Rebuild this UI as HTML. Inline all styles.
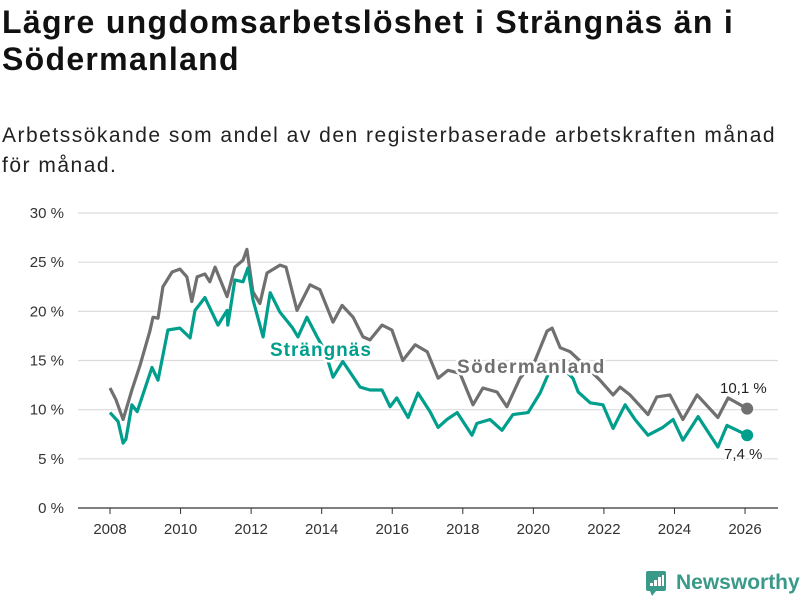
<!DOCTYPE html>
<html><head><meta charset="utf-8"><style>
body{margin:0;background:#fff;width:800px;height:600px;overflow:hidden;font-family:"Liberation Sans",sans-serif;}
h1{position:absolute;left:2px;top:4px;margin:0;font-size:32px;letter-spacing:1.3px;line-height:37px;font-weight:bold;color:#111;width:798px;white-space:nowrap}
.sub{position:absolute;left:2px;top:121px;font-size:21px;letter-spacing:1.5px;line-height:30px;color:#222;white-space:nowrap}
svg{position:absolute;left:0;top:0}
</style></head><body>
<h1>Lägre ungdomsarbetslöshet i Strängnäs än i<br>Södermanland</h1>
<div class="sub">Arbetssökande som andel av den registerbaserade arbetskraften månad<br>för månad.</div>
<svg id="chart" width="800" height="600"></svg>
<script>
const yTicks=[0,5,10,15,20,25,30];
const xTicks=[2008,2010,2012,2014,2016,2018,2020,2022,2024,2026];
const sodYears=[2008.00,2008.17,2008.37,2008.62,2008.85,2009.13,2009.22,2009.36,2009.50,2009.76,2009.98,2010.18,2010.32,2010.47,2010.69,2010.83,2010.98,2011.32,2011.54,2011.77,2011.88,2012.05,2012.25,2012.45,2012.82,2012.99,2013.30,2013.67,2013.95,2014.32,2014.58,2014.89,2015.17,2015.37,2015.71,2015.99,2016.30,2016.65,2016.99,2017.30,2017.58,2017.92,2018.29,2018.57,2018.97,2019.25,2019.62,2020.05,2020.39,2020.53,2020.76,2021.04,2021.46,2021.89,2022.26,2022.46,2022.74,2023.25,2023.50,2023.87,2024.24,2024.64,2025.23,2025.52,2026.06];
const sodVals=[12.2,11,9,12,14.5,18,19.4,19.3,22.5,24,24.3,23.5,21,23.5,23.8,23,24.5,21.5,24.5,25.2,26.3,22,20.8,23.9,24.7,24.5,20.1,22.7,22.2,18.9,20.6,19.4,17.4,17.1,18.6,18.1,15,16.6,15.9,13.2,14,13.7,10.5,12.2,11.8,10.3,13.2,15,18,18.3,16.3,15.9,14.5,13,11.5,12.3,11.5,9.5,11.3,11.5,9,11.5,9.2,11.2,10.1];
const strYears=[2008.00,2008.23,2008.37,2008.45,2008.62,2008.77,2009.19,2009.36,2009.64,2009.98,2010.27,2010.41,2010.69,2011.06,2011.32,2011.34,2011.54,2011.77,2011.91,2012.05,2012.34,2012.54,2012.82,2013.16,2013.33,2013.58,2013.87,2014.09,2014.32,2014.60,2015.09,2015.37,2015.71,2015.94,2016.13,2016.45,2016.73,2017.07,2017.30,2017.55,2017.84,2018.26,2018.40,2018.77,2019.11,2019.42,2019.85,2020.19,2020.47,2020.76,2021.12,2021.27,2021.61,2021.97,2022.26,2022.60,2022.88,2023.25,2023.67,2023.96,2024.24,2024.67,2025.23,2025.49,2026.06];
const strVals=[9.7,8.8,6.6,7,10.5,9.8,14.3,13,18.1,18.3,17.3,20.1,21.4,18.6,20.1,18.6,23.2,23,24.4,21.2,17.4,21.9,19.9,18.4,17.4,19.4,17.4,16,13.3,14.9,12.3,12,12,10.3,11.2,9.2,11.7,9.8,8.2,9,9.7,7.4,8.6,9,7.9,9.5,9.7,11.7,14,14.5,13.2,11.8,10.7,10.5,8.1,10.5,9,7.4,8.2,9,6.9,9.3,6.2,8.4,7.4];
const NS='http://www.w3.org/2000/svg';
const svg=document.getElementById('chart');
const X=y=>110+(y-2008)*35.28;
const Y=v=>508-v*9.833;
function mk(t,a,p){const e=document.createElementNS(NS,t);for(const k in a)e.setAttribute(k,a[k]);(p||svg).appendChild(e);return e;}
yTicks.forEach(v=>{
 const l=mk('line',{x1:78,x2:778,y1:Y(v),y2:Y(v),stroke:v===0?'#333':'#dcdcdc','stroke-width':1.2});
 
 
 const t=mk('text',{x:64,y:Y(v)+5,'text-anchor':'end','font-size':15,fill:'#333'});
 t.textContent=v+' %';
 
 
});
xTicks.forEach(yr=>{
 const l=mk('line',{x1:X(yr),x2:X(yr),y1:508,y2:514,stroke:'#333','stroke-width':1});
 
 
 const t=mk('text',{x:X(yr),y:534,'text-anchor':'middle','font-size':15,fill:'#333'});
 t.textContent=yr;
 
 
});
function line(ys,vs,c,name){
 const d=ys.map((y,i)=>(i?'L':'M')+X(y).toFixed(1)+','+Y(vs[i]).toFixed(1)).join('');
 const p=mk('path',{d:d,fill:'none',stroke:c,'stroke-width':3.2,'stroke-linejoin':'round'});
 
 
 const n=ys.length-1;
 const c1=mk('circle',{cx:X(ys[n]),cy:Y(vs[n]),r:6,fill:c});
 
 
}
line(sodYears,sodVals,'#707070','sodermanland-line');
line(strYears,strVals,'#009e8c','strangnas-line');
function lab(txt,x,y,c,name,sz,bold,ls){
 const t=mk('text',{x:x,y:y,'font-size':sz,'font-weight':bold?'bold':'normal','letter-spacing':ls||0,fill:c,stroke:'#fff','stroke-width':bold?5:4,'paint-order':'stroke','stroke-linejoin':'round'});
 t.textContent=txt;
 
 
}
lab('Strängnäs',270,356,'#009e8c','strangnas-label',19,true,1);
lab('Södermanland',457,373,'#707070','sodermanland-label',19,true,1.4);
lab('10,1 %',720,393,'#222','sodermanland-end-value',15,false);
lab('7,4 %',724,459,'#222','strangnas-end-value',15,false);
const g=mk('g',{});


mk('rect',{x:646,y:571,width:20,height:20,rx:2,fill:'#3a9a8a'},g);
mk('path',{d:'M650,591 L652,596 L656,591Z',fill:'#3a9a8a'},g);
[[650,583,3,5],[654,580,3,8],[658,577,3,11],[662,575,2,13]].forEach(r=>mk('rect',{x:r[0],y:r[1],width:r[2],height:r[3]-2,fill:'#fff'},g));
const lt=mk('text',{x:676,y:589,'font-size':21,'font-weight':'bold',fill:'#3a9a8a'},g);
lt.textContent='Newsworthy';
</script>
</body></html>
